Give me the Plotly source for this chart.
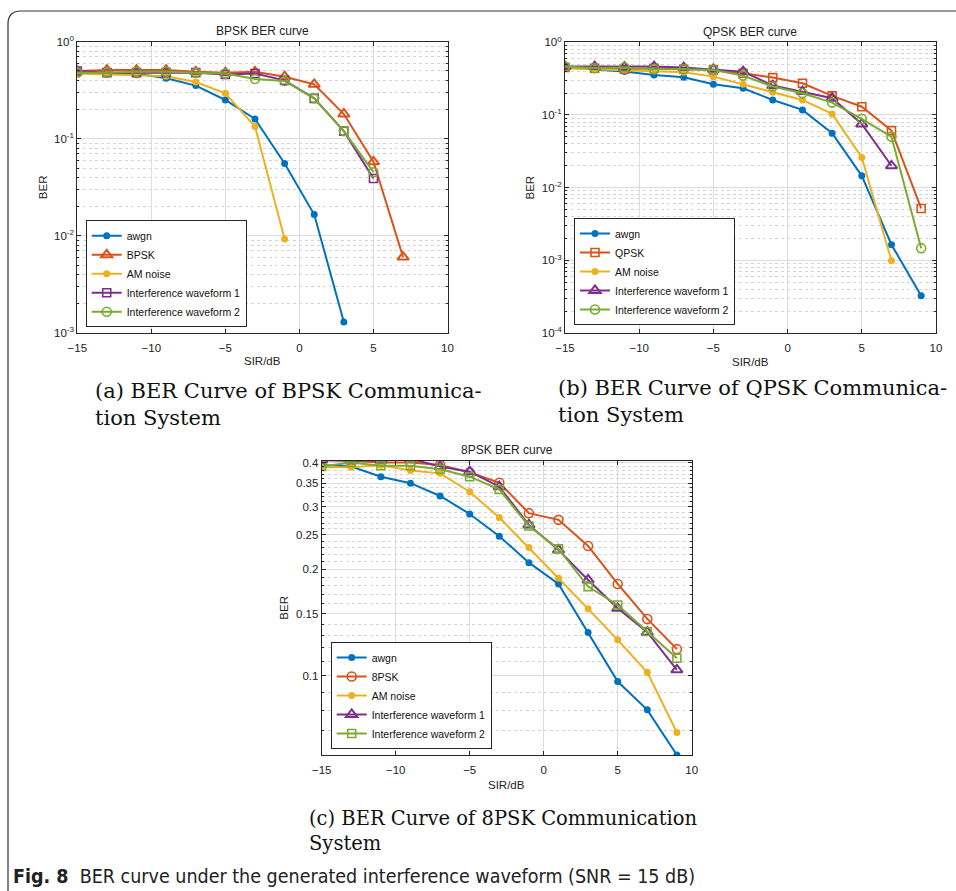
import math
import plotly.graph_objects as go

# ---------------- data ----------------
sir = [-15, -13, -11, -9, -7, -5, -3, -1, 1, 3, 5, 7, 9]

# (a) BPSK
a_awgn = [0.49, 0.47, 0.47, 0.42, 0.353, 0.251, 0.16, 0.0556, 0.0166, 0.0013]
a_bpsk = [0.50, 0.51, 0.51, 0.51, 0.49, 0.48, 0.49, 0.436, 0.364, 0.18, 0.058, 0.00605]
a_am = [0.47, 0.46, 0.455, 0.44, 0.385, 0.294, 0.134, 0.00927]
a_iw1 = [0.50, 0.48, 0.48, 0.48, 0.48, 0.46, 0.47, 0.40, 0.261, 0.12, 0.039]
a_iw2 = [0.48, 0.48, 0.49, 0.49, 0.48, 0.47, 0.413, 0.394, 0.261, 0.12, 0.0453]

# (b) QPSK
b_awgn = [0.449, 0.425, 0.395, 0.356, 0.33, 0.265, 0.233, 0.161, 0.1174, 0.0561, 0.01455, 0.00164, 0.000326]
b_qpsk = [0.449, 0.44, 0.425, 0.44, 0.425, 0.417, 0.375, 0.327, 0.273, 0.183, 0.13, 0.061, 0.00517]
b_am = [0.44, 0.425, 0.417, 0.404, 0.387, 0.337, 0.265, 0.205, 0.161, 0.1035, 0.026, 0.000986]
b_iw1 = [0.463, 0.463, 0.454, 0.463, 0.449, 0.425, 0.395, 0.254, 0.21, 0.17, 0.0754, 0.02]
b_iw2 = [0.463, 0.44, 0.449, 0.43, 0.425, 0.417, 0.348, 0.246, 0.199, 0.148, 0.0883, 0.05, 0.00147]

# (c) 8PSK
c_awgn = [0.394, 0.390, 0.365, 0.350, 0.322, 0.2865, 0.248, 0.2088, 0.1818, 0.1325, 0.0964, 0.0802, 0.0598]
c_8psk = [0.407, 0.405, 0.40, 0.40, 0.394, 0.375, 0.351, 0.288, 0.2757, 0.2327, 0.1818, 0.1448, 0.119]
c_am = [0.388, 0.388, 0.393, 0.38, 0.373, 0.331, 0.2798, 0.2302, 0.1887, 0.1546, 0.1264, 0.1024, 0.0692]
c_iw1 = [0.407, 0.405, 0.407, 0.41, 0.39, 0.377, 0.342, 0.2668, 0.2268, 0.1866, 0.1552, 0.1328, 0.104]
c_iw2 = [0.39, 0.40, 0.392, 0.392, 0.383, 0.365, 0.336, 0.2648, 0.2283, 0.1787, 0.1586, 0.1334, 0.1122]

names_a = ["awgn", "BPSK", "AM noise", "Interference waveform 1", "Interference waveform 2"]
names_b = ["awgn", "QPSK", "AM noise", "Interference waveform 1", "Interference waveform 2"]
names_c = ["awgn", "8PSK", "AM noise", "Interference waveform 1", "Interference waveform 2"]

titles = ["BPSK BER curve", "QPSK BER curve", "8PSK BER curve"]
xlabel = "SIR/dB"
ylabel = "BER"
xticks = [-15, -10, -5, 0, 5, 10]
a_yticks = [1e-3, 1e-2, 1e-1, 1]
a_yticktext = ["10<sup>-3</sup>", "10<sup>-2</sup>", "10<sup>-1</sup>", "10<sup>0</sup>"]
b_yticks = [1e-4, 1e-3, 1e-2, 1e-1, 1]
b_yticktext = ["10<sup>-4</sup>", "10<sup>-3</sup>", "10<sup>-2</sup>", "10<sup>-1</sup>", "10<sup>0</sup>"]
c_yticks = [0.1, 0.15, 0.2, 0.25, 0.3, 0.35, 0.4]
c_yticktext = ["0.1", "0.15", "0.2", "0.25", "0.3", "0.35", "0.4"]

captions = ["(a) BER Curve of BPSK Communica-<br>tion System",
            "(b) BER Curve of QPSK Communica-<br>tion System",
            "(c) BER Curve of 8PSK Communication<br>System"]
fig_caption = "<b>Fig. 8</b>  BER curve under the generated interference waveform (SNR = 15 dB)"

# ---------------- style ----------------
BLUE, RED, YEL, PUR, GRN = "#0072BD", "#D95319", "#EDB120", "#7E2F8E", "#77AC30"
W, H = 956, 891
SANS = "Liberation Sans, Arial, sans-serif"


def px(x):
    return x / W


def py(y):
    return 1 - y / H


fig = go.Figure()


def add(x, y, name, color, symbol, xa, ya, leg, size=8, lw=1.6):
    fig.add_trace(go.Scatter(
        x=x[:len(y)], y=y, name=name, mode="lines+markers",
        line=dict(color=color, width=2),
        marker=dict(symbol=symbol, size=size, color=color,
                    line=dict(color=color, width=lw)),
        xaxis=xa, yaxis=ya, legend=leg))


# (a)
add(sir, a_awgn, names_a[0], BLUE, "circle", "x", "y", "legend", size=7, lw=0)
add(sir, a_bpsk, names_a[1], RED, "triangle-up-open", "x", "y", "legend", size=10, lw=2)
add(sir, a_am, names_a[2], YEL, "circle", "x", "y", "legend", size=7, lw=0)
add(sir, a_iw1, names_a[3], PUR, "square-open", "x", "y", "legend")
add(sir, a_iw2, names_a[4], GRN, "circle-open", "x", "y", "legend", size=9)
# (b)
add(sir, b_awgn, names_b[0], BLUE, "circle", "x2", "y2", "legend2", size=7, lw=0)
add(sir, b_qpsk, names_b[1], RED, "square-open", "x2", "y2", "legend2")
add(sir, b_am, names_b[2], YEL, "circle", "x2", "y2", "legend2", size=7, lw=0)
add(sir, b_iw1, names_b[3], PUR, "triangle-up-open", "x2", "y2", "legend2", size=10, lw=2)
add(sir, b_iw2, names_b[4], GRN, "circle-open", "x2", "y2", "legend2", size=9)
# (c)
add(sir, c_awgn, names_c[0], BLUE, "circle", "x3", "y3", "legend3", size=7, lw=0)
add(sir, c_8psk, names_c[1], RED, "circle-open", "x3", "y3", "legend3", size=9)
add(sir, c_am, names_c[2], YEL, "circle", "x3", "y3", "legend3", size=7, lw=0)
add(sir, c_iw1, names_c[3], PUR, "triangle-up-open", "x3", "y3", "legend3", size=10, lw=2)
add(sir, c_iw2, names_c[4], GRN, "square-open", "x3", "y3", "legend3")

AXC = "#262626"
GRIDC = "#dcdcdc"
MINC = "#d4d4d4"
TXT = "#222"


def xaxis(dom, anchor):
    return dict(domain=dom, anchor=anchor, range=[-15, 10], tickvals=xticks,
                automargin=False,
                showgrid=True, gridcolor=GRIDC, gridwidth=1, zeroline=False,
                showline=True, linecolor=AXC, linewidth=1, mirror="ticks",
                ticks="inside", ticklen=4, tickcolor=AXC, ticklabelstandoff=4,
                tickfont=dict(family=SANS, size=11.5, color=TXT))


def yaxis(dom, anchor, rng, tv, tt, minor_vals):
    return dict(domain=dom, anchor=anchor, type="log", range=rng,
                tickvals=tv, ticktext=tt, automargin=False,
                showgrid=True, gridcolor=GRIDC, gridwidth=1, zeroline=False,
                showline=True, linecolor=AXC, linewidth=1, mirror="ticks",
                ticks="inside", ticklen=4, tickcolor=AXC,
                tickfont=dict(family=SANS, size=11.5, color=TXT),
                minor=dict(tickvals=minor_vals, showgrid=True, griddash="dot",
                           gridcolor=MINC, gridwidth=1, ticks="inside", ticklen=2, tickcolor=AXC),
                title=dict(text=ylabel, font=dict(family=SANS, size=11.5, color=TXT), standoff=4))


minor_a = [k * 10 ** e for e in range(-3, 0) for k in range(2, 10)]
minor_b = [k * 10 ** e for e in range(-4, 0) for k in range(2, 10)]
minor_c = [v / 100 for v in range(6, 41) if v not in (10, 15, 20, 25, 30, 35, 40)]

fig.update_layout(
    width=W, height=H, margin=dict(l=0, r=0, t=0, b=0, pad=0, autoexpand=False),
    paper_bgcolor="white", plot_bgcolor="white",
    xaxis=xaxis([px(77.3), px(447.5)], "y"),
    yaxis=yaxis([py(333), py(41.7)], "x", [-3, 0], a_yticks, a_yticktext, minor_a),
    xaxis2=xaxis([px(565), px(936)], "y2"),
    yaxis2=yaxis([py(333), py(42.3)], "x2", [-4, 0], b_yticks, b_yticktext, minor_b),
    xaxis3=xaxis([px(321.7), px(691.7)], "y3"),
    yaxis3=yaxis([py(755), py(460.7)], "x3", [math.log10(0.0598), math.log10(0.405)],
                 c_yticks, c_yticktext, minor_c),
    showlegend=True,
)

leg_common = dict(bgcolor="white", bordercolor=AXC, borderwidth=1,
                  font=dict(family=SANS, size=10.5, color="#111"),
                  itemwidth=30, tracegroupgap=0, xanchor="left", yanchor="bottom")
fig.update_layout(
    legend=dict(x=px(85.7), y=py(327.3), **leg_common),
    legend2=dict(x=px(574), y=py(325), **leg_common),
    legend3=dict(x=px(330.7), y=py(749), **leg_common),
)

# titles
for t, xc, yc in zip(titles, [262, 750, 507], [31, 32, 450]):
    fig.add_annotation(text=t, x=px(xc), y=py(yc), xref="paper", yref="paper",
                       showarrow=False, font=dict(family=SANS, size=12, color=TXT),
                       xanchor="center", yanchor="middle")

# x-axis titles
for xc, yc in zip([262.4, 750.5, 506.7], [361, 362, 785]):
    fig.add_annotation(text=xlabel, x=px(xc), y=py(yc), xref="paper", yref="paper",
                       showarrow=False, font=dict(family=SANS, size=11.5, color=TXT),
                       xanchor="center", yanchor="middle")

# sub-captions
for c, xl, yt, fs in zip(captions, [93, 556, 307], [377, 374, 805], [21, 21, 19.5]):
    fig.add_annotation(text=c, x=px(xl), y=py(yt), xref="paper", yref="paper",
                       showarrow=False, align="left",
                       font=dict(family="DejaVu Serif, serif", size=fs, color="#111"),
                       xanchor="left", yanchor="top")

fig.add_annotation(text=fig_caption, x=px(11), y=py(876), xref="paper", yref="paper",
                   showarrow=False, align="left",
                   font=dict(family="Liberation Sans Narrow, DejaVu Sans Condensed, Noto Sans, sans-serif",
                             size=19.5, color=TXT),
                   xanchor="left", yanchor="middle")

# outer frame with rounded top-left corner
x0, y0, r = 8, 11, 13
path = (f"M {px(x0)},{py(H + 5)} L {px(x0)},{py(y0 + r)} "
        f"Q {px(x0)},{py(y0)} {px(x0 + r)},{py(y0)} L {px(W + 5)},{py(y0)}")
fig.add_shape(type="path", path=path, xref="paper", yref="paper",
              line=dict(color="#333", width=1.2))

fig.write_html("out.html",
               config={"displayModeBar": False},
               post_script="document.body.style.margin='0';"
                           "document.body.style.overflow='hidden';"
                           "document.documentElement.style.overflow='hidden';")
